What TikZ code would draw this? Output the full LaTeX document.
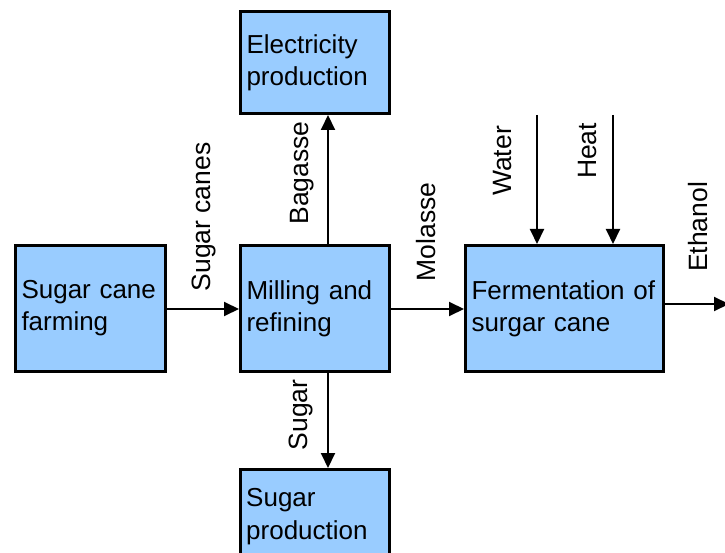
\documentclass[tikz,border=0pt]{standalone}
\usepackage{fontspec}
\setmainfont{Liberation Sans}
\usetikzlibrary{arrows.meta}
\definecolor{boxblue}{HTML}{99CCFF}
\tikzset{
  procbox/.style={draw=black, line width=3pt, fill=boxblue, anchor=north west,
    inner xsep=6pt, inner ysep=0pt, align=left,
    font=\fontsize{26}{32}\selectfont},
  flow/.style={line width=2pt, -{Triangle[length=15pt,width=14pt]}},
  vlabel/.style={rotate=90, inner sep=0pt, font=\fontsize{26.5}{30}\selectfont}
}
\begin{document}
\begin{tikzpicture}[x=1pt,y=-1pt]
\useasboundingbox (0,0) rectangle (725,553);
\clip (0,0) rectangle (725,553);
\node[procbox, minimum width=150pt, minimum height=126pt, text width=138pt] (farm) at (14,244) {Sugar cane\\farming};
\node[procbox, minimum width=149pt, minimum height=126pt, text width=137pt] (mill) at (239,244) {Milling and\\refining};
\node[procbox, minimum width=149pt, minimum height=102pt, text width=137pt] (elec) at (239,10) {Electricity\\production};
\node[procbox, minimum width=149pt, minimum height=126pt, text width=137pt] (sugp) at (239,468) {};
\node[font=\fontsize{26}{33}\selectfont, anchor=north west, align=left, inner sep=0pt] (sugptext) at (246,488) {Sugar\\production};
\node[procbox, minimum width=198pt, minimum height=126pt, text width=186pt] (ferm) at (464,244) {Fermentation of\\surgar cane};
\coordinate (ax) at (328,0);
\coordinate (wtop) at (537,115);
\coordinate (htop) at (613,115);
\coordinate (eout) at (729,304);
\draw[flow] (farm.east |- 0,309) -- (mill.west |- 0,309);
\draw[flow] (mill.east |- 0,309) -- (ferm.west |- 0,309);
\draw[flow] (mill.north -| ax) -- (elec.south -| ax);
\draw[flow] (mill.south -| ax) -- (sugp.north -| ax);
\draw[flow] (wtop) -- (ferm.north -| wtop);
\draw[flow] (htop) -- (ferm.north -| htop);
\draw[flow] (ferm.east |- eout) -- (eout);
\node[vlabel] (lsc) at (204,217) {Sugar canes};
\node[vlabel] (lbag) at (302,173) {Bagasse};
\node[vlabel] (lmol) at (426,232) {Molasse};
\node[vlabel] (lwat) at (503,161) {Water};
\node[vlabel] (lheat) at (588,151) {Heat};
\node[vlabel] (leth) at (698,227) {Ethanol};
\node[vlabel] (lsug) at (301,415) {Sugar};
\end{tikzpicture}
\end{document}
